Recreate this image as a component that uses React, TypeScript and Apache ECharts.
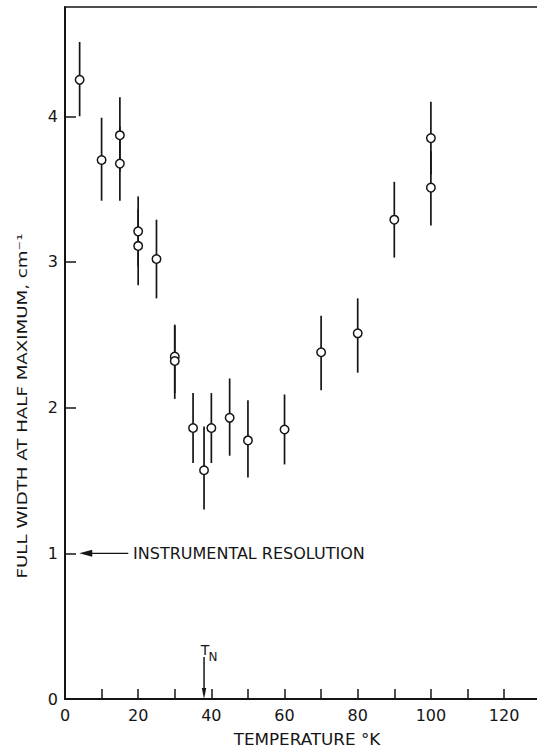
import React, { useEffect, useRef } from "react";
import * as echarts from "echarts";

// Temperature (K) of each measurement
const temps = [4, 10, 15, 15, 20, 20, 25, 30, 30, 35, 38, 40, 45, 50, 60, 70, 80, 90, 100, 100];
// Full width at half maximum (cm^-1)
const fwhm = [4.25, 3.7, 3.87, 3.675, 3.21, 3.11, 3.02, 2.35, 2.32, 1.86, 1.57, 1.86, 1.93, 1.775, 1.85, 2.38, 2.51, 3.29, 3.85, 3.51];
// Error bar limits
const errLow = [4.0, 3.42, 3.62, 3.42, 2.97, 2.84, 2.75, 2.1, 2.06, 1.62, 1.3, 1.62, 1.67, 1.52, 1.61, 2.12, 2.24, 3.03, 3.6, 3.25];
const errHigh = [4.51, 3.99, 4.13, 3.93, 3.45, 3.36, 3.29, 2.56, 2.57, 2.1, 1.87, 2.1, 2.2, 2.05, 2.09, 2.63, 2.75, 3.55, 4.1, 3.76];

const xTickLabels = [0, 20, 40, 60, 80, 100, 120];
const yTickLabels = [0, 1, 2, 3, 4];

const instrumentalResolution = 1;
const neelTemperature = 38;

const ink = "#151515";
const FONT = "DejaVu Sans";

export default function App() {
  const ref = useRef<HTMLDivElement>(null);

  useEffect(() => {
    if (!ref.current) return;
    const chart = echarts.init(ref.current, null, { renderer: "svg" });

    const option: any = {
      animation: false,
      backgroundColor: "#ffffff",
      grid: { left: 65, right: 0, top: 7, bottom: 52 },
      xAxis: [
        {
          type: "value",
          min: 0,
          max: 129,
          interval: 10,
          axisLine: { show: true, onZero: false, lineStyle: { color: ink, width: 2 } },
          axisTick: { show: true, inside: true, length: 10, lineStyle: { color: ink, width: 1.5 } },
          axisLabel: {
            showMaxLabel: false,
            margin: 8,
            color: ink,
            fontSize: 16,
            fontFamily: FONT,
            formatter: (v: number) => (xTickLabels.indexOf(v) >= 0 ? String(v) : ""),
          },
          splitLine: { show: false },
        },
        {
          type: "value",
          position: "top",
          min: 0,
          max: 129,
          axisLine: { show: true, onZero: false, lineStyle: { color: ink, width: 1.5 } },
          axisTick: { show: false },
          axisLabel: { show: false },
          splitLine: { show: false },
        },
      ],
      yAxis: {
        type: "value",
        min: 0,
        max: 4.75,
        interval: 1,
        axisLine: { show: true, lineStyle: { color: ink, width: 2 } },
        axisTick: { show: true, inside: true, length: 11, lineStyle: { color: ink, width: 1.5 } },
        axisLabel: {
          showMaxLabel: false,
          margin: 7,
          color: ink,
          fontSize: 16,
          fontFamily: FONT,
          formatter: (v: number) => (yTickLabels.indexOf(v) >= 0 ? String(v) : ""),
        },
        splitLine: { show: false },
      },
      series: [
        {
          type: "custom",
          xAxisIndex: 0,
          z: 1,
          data: temps.map((t, i) => [t, errLow[i], errHigh[i]]),
          encode: { x: 0, y: [1, 2] },
          renderItem: (params: any, api: any) => {
            const x = api.value(0);
            const a = api.coord([x, api.value(1)]);
            const b = api.coord([x, api.value(2)]);
            return {
              type: "line",
              shape: { x1: a[0], y1: a[1], x2: b[0], y2: b[1] },
              style: { stroke: ink, lineWidth: 1.7 },
            };
          },
        },
        {
          type: "scatter",
          xAxisIndex: 0,
          z: 2,
          symbol: "circle",
          symbolSize: 8.5,
          itemStyle: { color: "#ffffff", borderColor: ink, borderWidth: 1.5, opacity: 1 },
          data: temps.map((t, i) => [t, fwhm[i]]),
        },
      ],
    };

    chart.setOption(option);

    const px = (x: number, y: number) => chart.convertToPixel({ gridIndex: 0 }, [x, y]) as number[];

    const r0 = px(3.9, instrumentalResolution);
    const r1 = px(17.3, instrumentalResolution);
    const rText = px(18.6, instrumentalResolution);
    const tn0 = px(neelTemperature, 0);

    chart.setOption({
      graphic: [
        {
          type: "text",
          x: 22,
          y: 406,
          rotation: Math.PI / 2,
          scaleX: 1.3,
          style: {
            text: "FULL WIDTH AT HALF MAXIMUM, cm⁻¹",
            fill: ink,
            fontSize: 14,
            fontFamily: FONT,
            align: "center",
            verticalAlign: "middle",
          },
        },
        {
          type: "text",
          x: 307,
          y: 740,
          scaleX: 1.12,
          style: {
            text: "TEMPERATURE °K",
            fill: ink,
            fontSize: 15,
            fontFamily: FONT,
            align: "center",
            verticalAlign: "middle",
          },
        },
        // instrumental resolution arrow
        {
          type: "line",
          shape: { x1: r1[0], y1: r1[1], x2: r0[0] + 10, y2: r0[1] },
          style: { stroke: ink, lineWidth: 1.3 },
        },
        {
          type: "polygon",
          shape: {
            points: [
              [r0[0], r0[1]],
              [r0[0] + 13, r0[1] - 3.5],
              [r0[0] + 13, r0[1] + 3.5],
            ],
          },
          style: { fill: ink },
        },
        {
          type: "text",
          x: rText[0],
          y: rText[1],
          style: {
            text: "INSTRUMENTAL RESOLUTION",
            fill: ink,
            fontSize: 16,
            fontFamily: FONT,
            align: "left",
            verticalAlign: "middle",
          },
        },
        // T_N arrow
        {
          type: "line",
          shape: { x1: tn0[0], y1: tn0[1] - 42, x2: tn0[0], y2: tn0[1] - 8 },
          style: { stroke: ink, lineWidth: 1.5 },
        },
        {
          type: "polygon",
          shape: {
            points: [
              [tn0[0], tn0[1]],
              [tn0[0] - 2.2, tn0[1] - 11],
              [tn0[0] + 2.2, tn0[1] - 11],
            ],
          },
          style: { fill: ink },
        },
        {
          type: "text",
          x: tn0[0] + 1,
          y: tn0[1] - 49,
          style: {
            text: "T",
            fill: ink,
            fontSize: 14,
            fontFamily: FONT,
            align: "center",
            verticalAlign: "middle",
          },
        },
        {
          type: "text",
          x: tn0[0] + 4.5,
          y: tn0[1] - 42,
          style: {
            text: "N",
            fill: ink,
            fontSize: 12,
            fontFamily: FONT,
            align: "left",
            verticalAlign: "middle",
          },
        },
      ],
    });

    return () => chart.dispose();
  }, []);

  return (
    <div
      ref={ref}
      style={{ position: "absolute", left: 0, top: 0, width: 537, height: 751, background: "#fff" }}
    />
  );
}
